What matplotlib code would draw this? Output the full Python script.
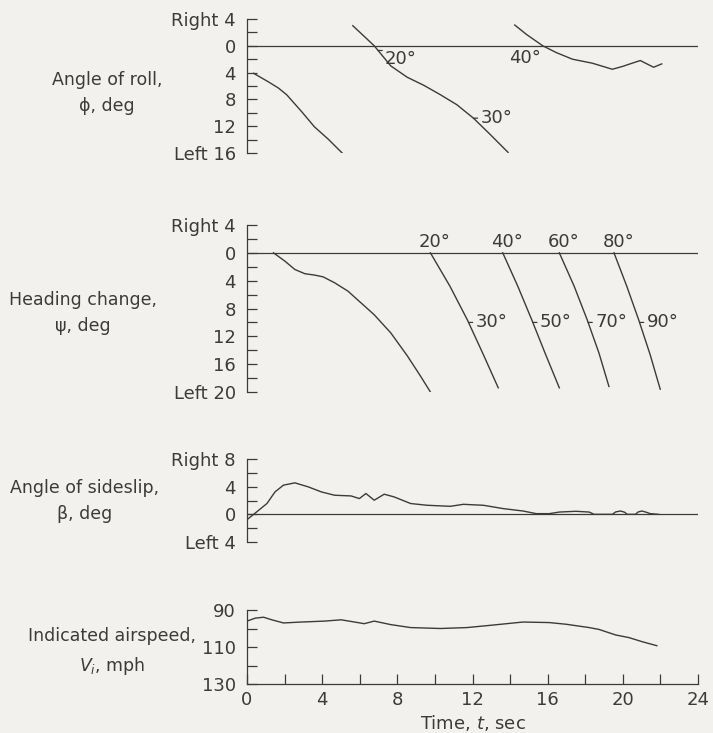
import numpy as np
import matplotlib.pyplot as plt
from matplotlib.ticker import MultipleLocator

plt.rcParams['font.family'] = ['DejaVu Sans']
plt.rcParams['mathtext.fontset'] = 'dejavusans'

ink = '#3b3b39'
paper = '#f2f1ed'

# angle of roll, deg left; the scale wraps around every 20 deg
roll_t = [[0.35, 1.15, 1.67, 2.11, 2.90, 3.59, 4.31, 5.10],
          [5.63, 6.24, 6.77, 7.30, 7.65, 8.53, 9.41, 10.29, 11.17, 12.05, 12.93, 13.89],
          [14.25, 14.87, 15.74, 16.45, 17.32, 18.38, 19.44, 19.96, 20.49, 20.93, 21.28, 21.64, 22.07]]
roll = [[4.1, 5.4, 6.3, 7.3, 9.8, 12.1, 13.9, 16.1],
        [17.0, 18.6, 20.0, 21.8, 23.0, 24.7, 25.9, 27.3, 28.8, 30.8, 33.2, 35.9],
        [36.9, 38.3, 40.0, 41.0, 42.0, 42.6, 43.5, 43.1, 42.6, 42.2, 42.7, 43.2, 42.7]]

# heading change, deg left; also wraps every 20 deg
heading_t = [[1.41, 2.02, 2.55, 3.08, 3.60, 4.05, 4.66, 5.37, 6.07, 6.77, 7.65, 8.53, 9.23, 9.76],
             [9.76, 10.80, 11.72, 12.54, 13.37],
             [13.61, 14.41, 15.15, 15.86, 16.62],
             [16.62, 17.41, 18.10, 18.73, 19.26],
             [19.53, 20.21, 20.84, 21.45, 21.99]]
heading = [[0, 1.2, 2.4, 3.0, 3.2, 3.45, 4.3, 5.5, 7.2, 8.9, 11.5, 14.8, 17.7, 20.0],
           [20, 24.8, 29.6, 34.4, 39.4],
           [40, 44.8, 49.6, 54.4, 59.4],
           [60, 64.8, 69.6, 74.4, 79.2],
           [80, 84.8, 89.6, 94.6, 99.6]]

# sideslip, deg (right positive)
sideslip_t = [0.0, 0.44, 1.06, 1.49, 1.94, 2.55, 3.26, 3.96, 4.66, 5.54, 5.98, 6.33, 6.77,
              7.30, 7.83, 8.71, 9.59, 10.82, 11.52, 12.23, 12.58, 13.63, 14.69, 15.39,
              16.09, 16.62, 17.50, 18.21, 18.47, 19.44, 19.62, 19.88, 20.10, 20.23, 20.67,
              20.82, 21.02, 21.25, 21.46, 21.90]
sideslip = [-0.77, 0.19, 1.56, 3.24, 4.22, 4.55, 3.97, 3.24, 2.76, 2.66, 2.28, 3.01, 2.04,
            2.91, 2.52, 1.56, 1.31, 1.16, 1.45, 1.35, 1.31, 0.83, 0.48, 0.10,
            0.10, 0.33, 0.44, 0.33, 0.0, 0.0, 0.35, 0.48, 0.3, 0.0, 0.0,
            0.35, 0.48, 0.3, 0.10, 0.0]

# indicated airspeed, mph
airspeed_t = [0.0, 0.44, 0.88, 1.32, 1.94, 2.90, 4.13, 5.01, 5.72, 6.24, 6.77, 7.65, 8.71,
              10.29, 11.70, 12.93, 13.81, 14.69, 16.09, 16.98, 18.21, 18.73, 19.62, 20.32,
              21.02, 21.81]
airspeed = [96.0, 94.4, 93.9, 95.3, 97.0, 96.5, 96.0, 95.3, 96.5, 97.4, 96.0, 97.9, 99.5,
            100.0, 99.5, 98.3, 97.4, 96.5, 96.8, 97.7, 99.5, 100.5, 103.5, 104.9,
            107.1, 109.3]

W, H = 713, 733
fig = plt.figure(figsize=(W / 100, H / 100), dpi=100, facecolor=paper)


def panel(top, bottom, left=247, right=698):
    ax = fig.add_axes([left / W, 1 - bottom / H, (right - left) / W, (bottom - top) / H])
    ax.set_facecolor('none')
    ax.set_xlim(0, 24)
    for s in ('top', 'right'):
        ax.spines[s].set_visible(False)
    for s in ('left', 'bottom'):
        ax.spines[s].set_color(ink)
        ax.spines[s].set_linewidth(0.9)
    ax.tick_params(which='both', direction='in', length=7, width=0.9,
                   color=ink, labelcolor=ink, labelsize=13)
    ax.tick_params(axis='y', pad=8)
    return ax


def top_panel(top, bottom):
    ax = panel(top, bottom)
    ax.spines['bottom'].set_visible(False)
    ax.tick_params(axis='x', which='both', bottom=False, labelbottom=False)
    ax.axhline(0, color=ink, lw=0.9)
    return ax


def leader(ax, xy, text, dx=5, va='center'):
    rel = (0, 0.5) if va == 'center' else (0, 1)
    ax.annotate(text, xy=xy, xytext=(dx, 0), textcoords='offset points',
                ha='left', va=va, fontsize=13, color=ink,
                arrowprops=dict(arrowstyle='-', color=ink, lw=0.9,
                                shrinkA=0, shrinkB=0, relpos=rel))


# roll
ax1 = top_panel(19, 153)
ax1.set_ylim(16, -4)
ax1.set_yticks([-4, 0, 4, 8, 12, 16], ['Right 4', '0', '4', '8', '12', 'Left 16'])
ax1.yaxis.set_minor_locator(MultipleLocator(2))
for k, (t, v) in enumerate(zip(roll_t, roll)):
    ax1.plot(t, np.array(v) - 20 * k, color=ink, lw=1)
leader(ax1, (np.interp(20.7, roll[1], roll_t[1]), 0.7), '20°', dx=5, va='top')
leader(ax1, (np.interp(30.8, roll[1], roll_t[1]), 10.8), '30°', dx=5)
ax1.annotate('40°', xy=(np.interp(40, roll[2], roll_t[2]), 0), xytext=(-1, -2),
             textcoords='offset points', ha='right', va='top', fontsize=13, color=ink)

# heading
ax2 = top_panel(225, 392)
ax2.set_ylim(20, -4)
ax2.set_yticks([-4, 0, 4, 8, 12, 16, 20], ['Right 4', '0', '4', '8', '12', '16', 'Left 20'])
ax2.yaxis.set_minor_locator(MultipleLocator(2))
for k, (t, v) in enumerate(zip(heading_t, heading)):
    ax2.plot(t, np.array(v) - 20 * k, color=ink, lw=1)
    if k > 0:
        ax2.annotate(f'{20 * k}°', xy=(t[0], 0), xytext=(3, 1), textcoords='offset points',
                     ha='center', va='bottom', fontsize=13, color=ink)
        leader(ax2, (np.interp(20 * k + 10, v, t), 10), f'{20 * k + 10}°')

# sideslip
ax3 = top_panel(459, 542)
ax3.set_ylim(-4, 8)
ax3.set_yticks([-4, 0, 4, 8], ['Left 4', '0', '4', 'Right 8'])
ax3.yaxis.set_minor_locator(MultipleLocator(2))
ax3.plot(sideslip_t, sideslip, color=ink, lw=1)

# airspeed
ax4 = panel(610, 684)
ax4.set_ylim(130, 90)
ax4.set_yticks([90, 110, 130])
ax4.yaxis.set_minor_locator(MultipleLocator(10))
ax4.set_xticks(range(0, 25, 4))
ax4.xaxis.set_minor_locator(MultipleLocator(2))
ax4.tick_params(axis='x', pad=5)
ax4.plot(airspeed_t, airspeed, color=ink, lw=1)
ax4.set_xlabel('Time, $t$, sec', fontsize=13, color=ink, labelpad=3)

titles = [(107, 93, 'Angle of roll,\nϕ, deg'),
          (83, 313, 'Heading change,\nψ, deg'),
          (85, 501, 'Angle of sideslip,\nβ, deg'),
          (112, 652, 'Indicated airspeed,\n$V_i$, mph')]
for x, y, s in titles:
    fig.text(x / W, 1 - y / H, s, ha='center', va='center', fontsize=12.5,
             linespacing=1.6, color=ink)

fig.savefig('out.png', dpi=100, facecolor=paper)
